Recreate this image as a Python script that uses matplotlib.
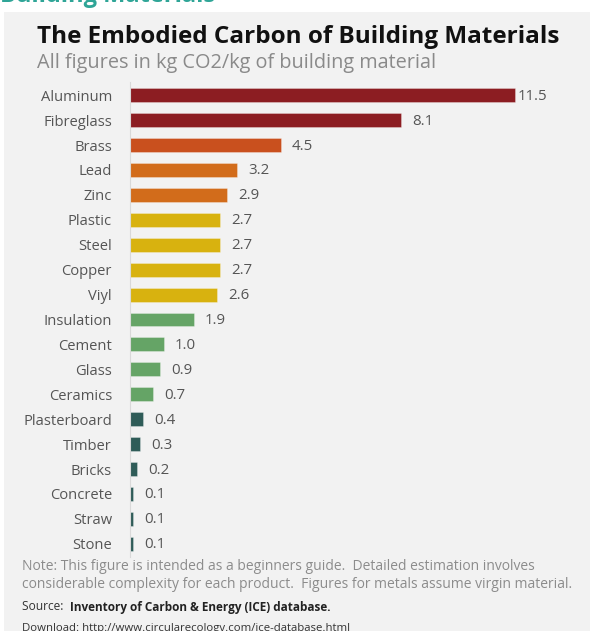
import matplotlib
matplotlib.use("Agg")
import matplotlib.pyplot as plt
from matplotlib.patches import Rectangle

# Embodied carbon, kg CO2 per kg of material (ICE database)
materials = ["Aluminum", "Fibreglass", "Brass", "Lead", "Zinc", "Plastic", "Steel",
             "Copper", "Viyl", "Insulation", "Cement", "Glass", "Ceramics",
             "Plasterboard", "Timber", "Bricks", "Concrete", "Straw", "Stone"]
values = [11.5, 8.1, 4.5, 3.2, 2.9, 2.7, 2.7, 2.7, 2.6, 1.9, 1.0, 0.9, 0.7,
          0.4, 0.3, 0.2, 0.1, 0.1, 0.1]
value_labels = ["11.5", "8.1", "4.5", "3.2", "2.9", "2.7", "2.7", "2.7", "2.6", "1.9",
                "1.0", "0.9", "0.7", "0.4", "0.3", "0.2", "0.1", "0.1", "0.1"]
groups = [0, 0, 1, 2, 2, 3, 3, 3, 3, 4, 4, 4, 4, 5, 5, 5, 5, 5, 5]
group_colors = ["#8C1D22", "#C9501E", "#D26C1B", "#D8B20F", "#65A466", "#2F5C58"]

FONT = "Open Sans"
W, H = 595, 631
fig = plt.figure(figsize=(W / 100, H / 100), dpi=100, facecolor="white")


def fx(x):
    return x / W


def fy(y):
    return 1 - y / H


# grey card behind the chart
fig.patches.append(Rectangle((fx(4), 0), fx(586), fy(12), transform=fig.transFigure,
                             facecolor="#f2f2f2", edgecolor="none", zorder=-5))

# section heading above the card
fig.text(fx(0), fy(-4), "Building Materials", fontsize=17, fontweight="bold",
         color="#2FA597", family=FONT, ha="left", va="center")

fig.text(fx(37), fy(37), "The Embodied Carbon of Building Materials", fontsize=17.5,
         fontweight="bold", color="#111111", family=FONT, ha="left", va="center")
fig.text(fx(37), fy(63), "All figures in kg CO2/kg of building material", fontsize=14.3,
         color="#8a8a8a", family=FONT, ha="left", va="center")

# bar chart area
x0, x1 = 130, 580
top, bottom = 82, 557
ax = fig.add_axes([fx(x0), fy(bottom), fx(x1 - x0), (bottom - top) / H])
ax.set_facecolor("none")
n = len(materials)
ypos = list(range(n))
colors = [group_colors[g] for g in groups]
ax.barh(ypos, values, height=0.56, color=colors, edgecolor="#ffffff55", linewidth=0.6,
        zorder=2)
ax.set_xlim(0, (x1 - x0) / 33.5)
ax.set_ylim(n - 0.5 + 0.03, -0.5 - 0.03)

ax.set_yticks(ypos)
ax.set_yticklabels(materials, fontsize=10.6, color="#555555", family=FONT)
ax.tick_params(axis="y", length=0, pad=13)
ax.set_xticks([])
for side in ["top", "right", "bottom"]:
    ax.spines[side].set_visible(False)
ax.spines["left"].set_color("#d9d9d9")
ax.spines["left"].set_linewidth(0.8)

vmax = max(values)
for y, v, lab in zip(ypos, values, value_labels):
    offset = 0.06 if v == vmax else 0.33
    ax.text(v + offset, y + 0.04, lab, fontsize=10.8, color="#555555", family=FONT,
            ha="left", va="center")

# footnotes
fig.text(fx(22), fy(567), "Note: This figure is intended as a beginners guide.  Detailed estimation involves",
         fontsize=10, color="#8c8c8c", family=FONT, ha="left", va="center")
fig.text(fx(22), fy(585), "considerable complexity for each product.  Figures for metals assume virgin material.",
         fontsize=10, color="#8c8c8c", family=FONT, ha="left", va="center")
src = fig.text(fx(22), fy(607), "Source:  ", fontsize=8.6, color="#333333", family=FONT,
               ha="left", va="center")
fig.canvas.draw()
bb = src.get_window_extent()
fig.text(bb.x1 / W, fy(607), "Inventory of Carbon & Energy (ICE) database.", fontsize=8.5,
         fontweight="bold", color="#222222", family=FONT, ha="left", va="center")
fig.text(fx(22), fy(629), "Download: http://www.circularecology.com/ice-database.html",
         fontsize=8.2, color="#333333", family=FONT, ha="left", va="center")

fig.savefig("out.png", dpi=100, facecolor="white")
